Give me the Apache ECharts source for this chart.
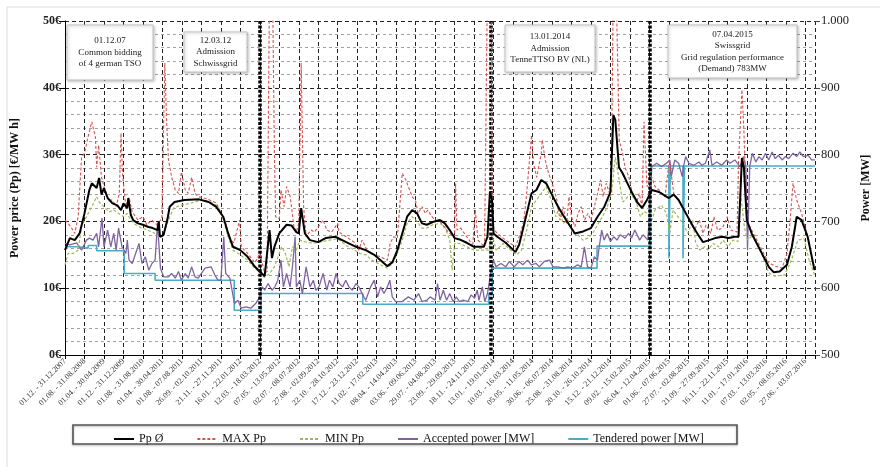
<!DOCTYPE html>
<html>
<head>
<meta charset="utf-8">
<script src="https://cdn.jsdelivr.net/npm/echarts@6/dist/echarts.min.js"></script>
<style>
html,body{margin:0;padding:0;background:#fff;}
#c{width:880px;height:467px;}
</style>
</head>
<body>
<div id="c"></div>
<script>
// ---- category (period) labels, one every 8 periods ----
const xLabels = [
"01.12. - 31.12.2007","01.08. - 31.08.2008","01.04. - 30.04.2009","01.12. - 31.12.2009",
"01.08. - 31.08.2010","01.04. - 30.04.2011","01.08. - 07.08.2011","26.09. - 02.10.2011",
"21.11. - 27.11.2011","16.01. - 22.01.2012","12.03. - 18.03.2012","07.05. - 13.05.2012",
"02.07. - 08.07.2012","27.08. - 02.09.2012","22.10. - 28.10.2012","17.12. - 23.12.2012",
"11.02. - 17.02.2013","08.04. - 14.04.2013","03.06. - 09.06.2013","29.07. - 04.08.2013",
"23.09. - 29.09.2013","18.11. - 24.11.2013","13.01. - 19.01.2014","10.03. - 16.03.2014",
"05.05. - 11.05.2014","30.06. - 06.07.2014","25.08. - 31.08.2014","20.10. - 26.10.2014",
"15.12. - 21.12.2014","09.02. - 15.02.2015","06.04. - 12.04.2015","01.06. - 07.06.2015",
"27.07. - 02.08.2015","21.09. - 27.09.2015","16.11. - 22.11.2015","11.01. - 17.01.2016",
"07.03. - 13.03.2016","02.05. - 08.05.2016","27.06. - 03.07.2016"
];
const periodsPerLabel = 8;
const lastPeriod = 308;

// ---- series: [period index, value] ----
const avgPrice = [[0,15.7],[2,17.5],[4,17.2],[6,18.2],[8,21.2],[10,24.7],[11,25.7],[13,25],[14,26.5],[15,24],[16,25],[17.5,23.5],[19.5,22.7],[21.5,22.4],[23,21.7],[24,22.7],[25.5,22],[26,23.5],[27,21],[28,20.2],[30,19.7],[32,19.5],[34,19.2],[36,19],[38,18.7],[38.5,20],[39,17.7],[40.5,18],[42,20.2],[43,22.2],[45,22.9],[49,23.2],[55,23.3],[59,22.9],[62,22.2],[65,20.7],[67,18.2],[69,16.2],[72,15.7],[75,14.7],[78,13.2],[80,12.5],[82,11.8],[84,18.7],[85,14.5],[86,16.2],[88,18.2],[91,19.5],[93,19.4],[95,18.4],[96,18.2],[97,22],[98.5,18.2],[100.6,17.2],[104,16.9],[107,17.5],[111,17.7],[115.5,16.9],[119.5,16.2],[123.5,15.7],[127,15],[129.6,14.2],[132.4,13.3],[134.5,13.9],[136.5,15.7],[138.5,18.2],[140.5,20.7],[142.6,21.7],[144.6,21.2],[146.6,19.7],[148.6,19.5],[151,19.9],[154,20.2],[156,19.7],[158,18.7],[160,17.5],[162,17.3],[165,16.8],[168,16.2],[172,16.2],[173.5,17.7],[174.5,24.4],[175.4,23.2],[176,18.2],[177.5,17.7],[181,16.8],[185,15.4],[186.5,16.5],[189,20.2],[191.6,24.2],[193.6,24.7],[195.6,26.2],[197.6,25.7],[199.7,24.2],[202.5,22.2],[205.8,20.2],[209.4,18.2],[212.8,18.5],[216,19],[218.7,20.7],[221.5,22.2],[224,24.4],[225.2,35.9],[226,35.2],[227.5,28.1],[229,27.2],[231,25.7],[233,24.2],[235,22.9],[237,22],[239,23.2],[241,24.7],[244,24.4],[247,23.7],[248,23.5],[250,24],[252,23.2],[255,21.2],[258,19.2],[260,18],[262,16.9],[264.6,17.2],[267,17.5],[270,17.7],[272.5,17.5],[275,17.7],[276.6,17.7],[278,29.5],[278.8,28.1],[280,20.2],[282,18.2],[285.5,15.7],[289,13.2],[291,12.4],[293.5,12.5],[296.5,13.5],[298.5,16.2],[300.5,20.7],[302.5,20.2],[305,17.7],[307.8,12.7]];

const maxPrice = [[0,20.2],[1.3,19.7],[2.7,19],[4,18.2],[5.4,20.7],[6.8,29.6],[8,30.2],[9.4,32.6],[11,34.9],[12.5,32.6],[13,28.1],[13.8,31.4],[15,26.6],[16,25.2],[18,23.2],[19.5,23.2],[21,22.2],[22.3,24.2],[23,33.2],[23.6,27.2],[25,22.2],[26.3,23.6],[27.6,21.4],[30,20.2],[32,20.7],[33.6,19.5],[35.6,20.2],[37.7,19.5],[38.5,19.8],[39.8,20.5],[41,43.7],[41.7,35.2],[42.5,29.2],[43.8,26.6],[45.3,24.7],[46.6,24.2],[47.8,27.4],[49.4,24.7],[50.6,24.2],[52,26.6],[53.4,24.2],[54.7,23.7],[58,23.4],[62,22.8],[65.6,20.2],[68,17.2],[69.4,16.8],[71.7,20.2],[72.4,16.2],[75,15.2],[78,13.8],[80,15.2],[82,12.3],[83,12.5],[84,56],[85.2,56],[86,30.2],[86.5,20.7],[88,20.4],[88.7,24.7],[90,22.2],[91,25.2],[92.5,23.7],[94,19.2],[95,18.4],[96,19.8],[97,43.7],[98,22.2],[99,17.7],[101,18.7],[102.5,18.4],[104,19.2],[106,20.2],[107.5,18.7],[109.5,18.4],[112,19.7],[112.5,18.4],[115.5,17.7],[118.7,16.9],[120.7,15.7],[122,17.2],[124,15.7],[127,15],[129.6,14.7],[132.4,14.2],[133.6,16.8],[135,17.7],[136.5,17.5],[138.5,27.2],[140,26.2],[141,25.2],[142.6,23.7],[144,23],[145,21.2],[146.6,22.2],[148,21.2],[149,21.7],[150.7,20.7],[152,20.2],[154,20],[156,19],[158,18.2],[160,17.7],[160.4,25.7],[161,18.7],[162.5,19],[164,18.2],[166,17.2],[167.4,16.2],[168.5,21.7],[169.6,17.2],[172.3,16.2],[173.5,56],[175,56],[175.4,19.2],[177.5,18.2],[181,17.2],[185,16.2],[187,18.2],[188.5,20.2],[189.6,24.2],[191.6,32.9],[192.4,28.7],[193.7,26.6],[195.6,30.2],[196,32.2],[197.2,29.2],[198.6,27.2],[200.5,25.2],[202,23.2],[203.3,20.2],[204.5,22.2],[206,19.7],[207,23.7],[208,20.7],[209.4,19.2],[210.7,21.2],[212,22.2],[213.4,20.2],[214.7,21.2],[216,20.2],[217.4,22.2],[218.7,24.2],[220,26.2],[221,23.7],[222.3,25.7],[223.6,24.2],[224.4,27.2],[225.2,56],[226.3,56],[227.6,32.2],[229,30.2],[230,28.1],[231.6,26.6],[233,24.2],[234.7,22.7],[235.8,24.2],[237,22.2],[237.8,34.9],[239,25.2],[241,26.6],[242.3,25.2],[244,24.7],[246.4,23.7],[248.2,29.2],[250,24.2],[252,23.2],[254,21.7],[256.5,20.2],[258.5,18.7],[260.5,20.2],[262,18.2],[263.3,19.5],[265.2,18.2],[266.5,20.7],[268,18.7],[270,19],[272,20.7],[273.4,18.7],[276,18.4],[276.6,28.7],[278,39.7],[278.8,33.7],[280,20.2],[282,18.7],[285.5,16.2],[289,13.8],[291.6,13.3],[294.5,13],[296.5,15.2],[297.8,20.2],[299,25.7],[300.5,23.2],[302.5,21.2],[305,17.7],[307.8,13]];

const minPrice = [[0,13.5],[1.3,15.2],[3.4,15.2],[5.4,15.7],[6.8,19.2],[8.8,20.7],[11,22.2],[13,23.7],[14,22.9],[16,22.2],[18,21.4],[20,21.7],[22,21.2],[24,20.7],[25.5,21.2],[27,20.2],[29,19.5],[31.6,19],[34,18.7],[37,18.2],[38.5,17.7],[40,17.7],[42.5,20.2],[44.6,22],[47.4,22.4],[51.5,22.7],[56,23.2],[60,22.9],[62.8,22.2],[65,20.2],[67,17.7],[69,15.7],[72,15],[75,14.2],[78,13],[82,11.6],[84,12.2],[86,13.2],[87,14.2],[89,16.2],[90.5,15.2],[92,13.2],[93.4,16.2],[95,15.7],[96.5,17.2],[98,17],[100.6,16.8],[103,16.8],[106,17],[108.6,17.2],[112,17.4],[115.5,16.4],[119,15.7],[121,15.2],[123.6,15],[126,14.2],[129.6,13.5],[132.4,13],[134.5,13.7],[136.5,15.2],[138.5,17.2],[140.5,19.7],[142.6,20.7],[144.6,20],[146.6,19],[148.6,19],[151,19.5],[154,19.7],[156,19.2],[158,17.2],[159,12.7],[160,16.7],[162,16.7],[165,16.2],[168,15.7],[172,15.7],[174,15.7],[175.4,18.2],[177,15.7],[180,16.7],[183,15.7],[185.5,15],[187.5,15.7],[189.6,18.7],[191.6,22.2],[193.6,23.2],[195.6,24.2],[197.6,25.2],[199.7,23.2],[201.6,20.7],[203,22.2],[204.5,19.7],[206.5,20.2],[208.5,18.2],[210.6,18],[212.7,17.2],[214.7,17.5],[216.7,18.2],[218.7,19.5],[220.7,20.7],[222.7,22.2],[224.4,24.2],[226,29.6],[227.6,26.2],[229,22.9],[230,23.2],[232.3,24.2],[234.6,22.9],[236.3,20.7],[237.8,21.5],[239,21.2],[241,20.2],[242.3,21.7],[245,22.4],[247,21.2],[248.4,18.2],[249.7,21.7],[251.7,20.7],[253.7,19.7],[255.8,18.2],[257.8,20.2],[259,16.8],[260.7,15.7],[262.7,16.2],[264,15.7],[266.2,16.7],[268.3,16.2],[270.3,17.2],[272.3,16.2],[274.3,17.2],[276.4,17],[277.5,24.2],[279,19.2],[280.3,17.2],[282.3,17.9],[285.6,15.7],[289,12.3],[291.5,11.8],[295.6,12],[298.3,14.2],[301,17.2],[303.5,17.4],[305.6,14.2],[307.8,12]];

const acceptedMW = [[0,667],[2,665],[4.8,668],[6.8,657],[8.8,672],[10,675],[11.5,672],[13,682],[13.8,662],[15.2,705],[16,662],[17.5,687],[18.8,662],[20,682],[21,657],[22,690],[23.4,662],[25,652],[25.6,672],[26.3,642],[27.6,637],[29,652],[30.4,667],[31.6,637],[33,647],[34.4,627],[35.7,637],[37,642],[38,697],[39.2,630],[40.5,617],[42.5,617],[43.8,622],[45.3,615],[46.6,625],[47.8,612],[49.4,622],[50.6,615],[52,632],[53.4,617],[54.7,615],[57.5,630],[60,632],[61.5,620],[62.8,612],[64,612],[65.2,677],[66,622],[67.7,615],[69.6,577],[71,582],[72.4,570],[74.3,572],[76.3,570],[78.3,577],[79.7,585],[81,602],[82,597],[83.4,607],[85,597],[86.2,602],[87.4,612],[88.7,642],[89.7,602],[91,622],[92.4,602],[93.4,632],[94.5,677],[95,602],[96.4,612],[97.5,592],[99,632],[100.6,602],[102,612],[103,597],[104.3,602],[106,622],[107.5,597],[108.6,612],[110,602],[111.3,622],[112.6,607],[114,602],[115.3,612],[116.6,602],[118,597],[119.5,607],[120.7,602],[122,592],[123.5,582],[125.5,602],[127,612],[128.4,587],[129.6,602],[131,592],[132.4,602],[133.4,612],[134.4,587],[135.8,580],[138.5,580],[141,587],[143.3,582],[145.2,592],[146.6,580],[148.6,582],[150,587],[152,582],[153,607],[154,582],[155.4,597],[156.7,582],[158,592],[159.4,580],[160.7,587],[162,580],[163.5,582],[165.5,580],[166.8,590],[168.2,585],[169.3,597],[170,582],[171.4,602],[172.4,580],[173.5,592],[174.8,622],[176,642],[177,632],[179,637],[181,632],[182.5,640],[184.5,632],[186.5,640],[188,635],[190,642],[191.5,635],[193.5,637],[194.8,632],[196.8,640],[199,642],[200.4,632],[202.4,632],[204.5,630],[206.5,632],[208.5,630],[210.5,635],[212,632],[213.3,662],[214.6,632],[216,630],[217.4,647],[218.7,642],[219.4,662],[220.4,687],[221.4,672],[222.7,682],[224,670],[225.4,677],[226.7,672],[228,680],[230,675],[231.4,682],[232.7,675],[234,687],[236,672],[237.4,680],[239.4,672],[240.2,672],[241,782],[243,787],[245,782],[247,787],[248.4,792],[249,767],[250.4,792],[252,787],[253.5,767],[254,782],[254.9,797],[256.2,787],[258.3,784],[260.3,789],[261.6,784],[263,787],[264.8,807],[265.7,784],[267.7,789],[269.7,784],[271.7,792],[273.1,787],[275.1,792],[277.2,782],[278.6,797],[279.6,782],[280.3,657],[281.2,782],[282.3,802],[283.7,789],[285,797],[286.3,792],[287.7,802],[289,792],[290.4,804],[291.7,794],[293,799],[294.5,792],[295.8,797],[297.2,794],[299,802],[300.5,797],[301.8,804],[303.2,797],[305.2,799],[306.6,792],[308,792]];

// tendered power: value holds until the next change
const tenderedMW = [[0,662],[5,660],[9.5,664],[13,656],[24.3,622],[37,612],[69.5,567],[80.5,592],[122.3,576],[174,592],[175.5,630],[218.5,663],[240.5,783],[248,645],[248.6,783],[253.8,645],[254.4,783],[308,783]];

// event markers (period index) and annotation texts
const eventIdx = [80, 175, 240];
const notes = [
  "01.12.07\nCommon bidding\nof 4 german TSO",
  "12.03.12\nAdmission\nSchwissgrid",
  "13.01.2014\nAdmission\nTenneTTSO BV (NL)",
  "07.04.2015\nSwissgrid\nGrid regulation performance\n(Demand) 783MW"
];

const SERIF = '"Liberation Serif", "DejaVu Serif", serif';
const chart = echarts.init(document.getElementById('c'), null, {renderer: 'canvas'});

function noteBox(x, y, w, h, text) {
  return [
    {type: 'rect', z: 100, zlevel: 1, silent: true, shape: {x: x, y: y, width: w, height: h},
     style: {fill: '#fff', stroke: '#c4c4c4', lineWidth: 1, shadowBlur: 3, shadowColor: 'rgba(0,0,0,0.25)', shadowOffsetX: 1, shadowOffsetY: 1}},
    {type: 'text', z: 101, zlevel: 1, silent: true, x: x + w / 2, y: y + h / 2,
     style: {text: text, align: 'center', verticalAlign: 'middle',
        font: '9px ' + SERIF, lineHeight: 11.4, fill: '#222'}}
  ];
}

const option = {
  animation: false,
  backgroundColor: '#fff',
  grid: {left: 65, right: 53, top: 21, bottom: 112, containLabel: false},
  legend: {
    left: 108, top: 428, itemWidth: 20, itemHeight: 10, itemGap: 33,
    textStyle: {fontFamily: SERIF, fontSize: 12, color: '#111'},
    itemStyle: {opacity: 0},
    data: ['Pp Ø', 'MAX Pp', 'MIN Pp', 'Accepted power [MW]', 'Tendered power [MW]']
  },
  xAxis: {
    type: 'value', min: 0, max: lastPeriod, interval: periodsPerLabel,
    axisLine: {show: true, lineStyle: {color: '#000', width: 1}},
    axisTick: {show: true, length: 4, lineStyle: {color: '#000'}},
    axisLabel: {
      rotate: 45, fontSize: 8, fontFamily: SERIF, color: '#333', margin: 5,
      formatter: function (v) { return (v % periodsPerLabel === 0 && xLabels[v / periodsPerLabel]) ? xLabels[v / periodsPerLabel] : ''; }
    },
    splitLine: {show: true, lineStyle: {color: '#222', width: 1, type: [4, 3]}}
  },
  yAxis: [
    {
      type: 'value', min: 0, max: 50, interval: 10, position: 'left',
      name: 'Power price (Pp) [€/MW h]', nameLocation: 'middle', nameRotate: 90, nameGap: 44,
      nameTextStyle: {fontFamily: SERIF, fontSize: 12, fontWeight: 'bold', color: '#111'},
      axisLine: {show: true, lineStyle: {color: '#000', width: 1}},
      axisTick: {show: true, length: 6, lineStyle: {color: '#000'}},
      axisLabel: {fontFamily: SERIF, fontSize: 12, fontWeight: 'bold', color: '#222', margin: 4,
        formatter: function (v) { return v + '€'; }},
      splitLine: {show: true, lineStyle: {color: '#222', width: 1, type: [4, 3]}},
      minorTick: {show: false, splitNumber: 5},
      minorSplitLine: {show: true, lineStyle: {color: '#8a8a8a', width: 0.8, type: [3, 3]}}
    },
    {
      type: 'value', min: 500, max: 1000, interval: 100, position: 'right',
      name: 'Power [MW]', nameLocation: 'middle', nameRotate: 90, nameGap: 36,
      nameTextStyle: {fontFamily: SERIF, fontSize: 12, fontWeight: 'bold', color: '#111'},
      axisLine: {show: false},
      axisTick: {show: true, length: 5, lineStyle: {color: '#444'}},
      axisLabel: {fontFamily: SERIF, fontSize: 12.5, color: '#222', margin: 6,
        formatter: function (v) { return v >= 1000 ? (Math.floor(v / 1000) + '.' + String(v % 1000).padStart(3, '0')) : String(v); }},
      splitLine: {show: false}
    }
  ],
  series: [
    {name: 'Tendered power [MW]', type: 'line', yAxisIndex: 1, data: tenderedMW, step: 'end',
     showSymbol: false, symbol: 'none', z: 2, lineStyle: {color: '#4bacc6', width: 1.6}, itemStyle: {color: '#4bacc6'}},
    {name: 'Accepted power [MW]', type: 'line', yAxisIndex: 1, data: acceptedMW,
     showSymbol: false, symbol: 'none', z: 3, lineStyle: {color: '#8064a2', width: 1.3}, itemStyle: {color: '#8064a2'}},
    {name: 'MIN Pp', type: 'line', yAxisIndex: 0, data: minPrice,
     showSymbol: false, symbol: 'none', z: 4, lineStyle: {color: '#9bbb59', width: 1.2, type: [3, 2]}, itemStyle: {color: '#9bbb59'}},
    {name: 'MAX Pp', type: 'line', yAxisIndex: 0, data: maxPrice,
     showSymbol: false, symbol: 'none', z: 5, lineStyle: {color: '#d9534f', width: 1.1, type: [3, 2]}, itemStyle: {color: '#d9534f'}},
    {name: 'Pp Ø', type: 'line', yAxisIndex: 0, data: avgPrice,
     showSymbol: false, symbol: 'none', z: 6, lineStyle: {color: '#000', width: 2}, itemStyle: {color: '#000'},
     markLine: {
       silent: true, symbol: ['none', 'none'], label: {show: false},
       lineStyle: {color: '#000', width: 3.5, type: [3, 1.6]},
       data: eventIdx.map(function (e) { return {xAxis: e}; })
     }}
  ],
  graphic: [
    {type: 'rect', z: -10, silent: true, shape: {x: 7, y: 7, width: 900, height: 520},
     style: {fill: 'none', stroke: '#dcdcdc', lineWidth: 1}},
    {type: 'rect', z: 40, silent: true, shape: {x: 73, y: 425, width: 664, height: 19},
     style: {fill: 'none', stroke: '#555', lineWidth: 1.6, shadowBlur: 2, shadowColor: 'rgba(0,0,0,0.3)', shadowOffsetY: 1}}
  ].concat(noteBox(67, 25, 86, 55, notes[0]), noteBox(184, 32, 63, 40, notes[1]),
           noteBox(505, 25, 90, 47, notes[2]), noteBox(668, 25, 129, 53, notes[3]))
};
chart.setOption(option);
</script>
</body>
</html>
